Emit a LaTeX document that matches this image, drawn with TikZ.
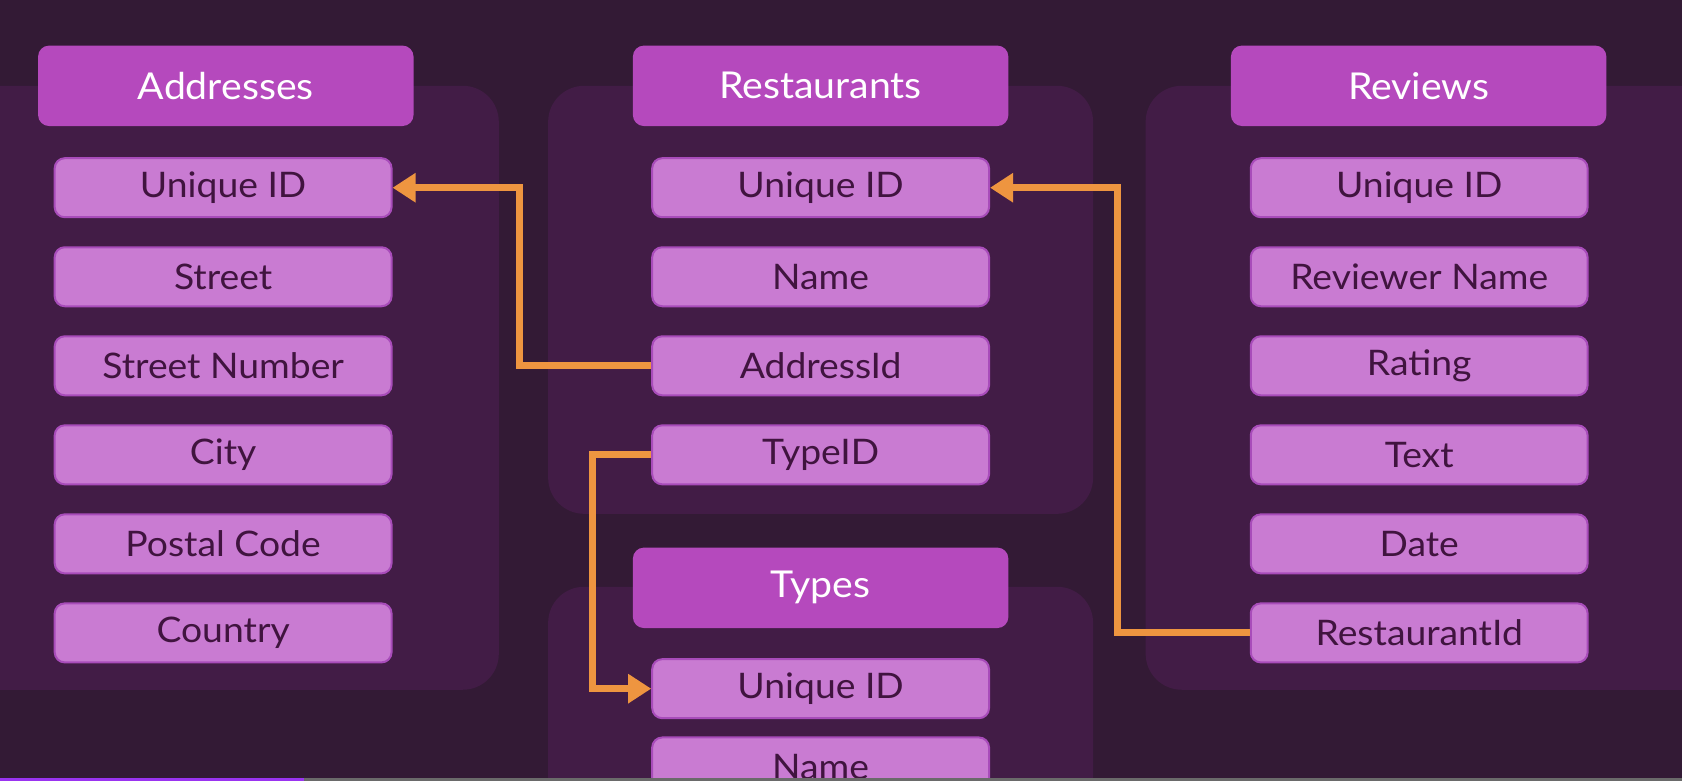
\documentclass[tikz,border=0pt]{standalone}
\usepackage{fontspec}
\setmainfont{Lato}[FakeStretch=1.06]
\usetikzlibrary{arrows.meta}
\definecolor{bgc}{HTML}{331A35}
\definecolor{panelc}{HTML}{421C46}
\definecolor{headc}{HTML}{B549BD}
\definecolor{fieldc}{HTML}{C97BD2}
\definecolor{fieldb}{HTML}{A84CBA}
\definecolor{fieldt}{HTML}{40143F}
\definecolor{fkc}{HTML}{EE9540}
\definecolor{barp}{HTML}{9A34F0}
\definecolor{barg}{HTML}{6A6A6A}
\def\u{0.5365pt}
\tikzset{
  panel/.style={fill=panelc, rounded corners=18pt},
  header/.style={fill=headc, rounded corners=5.5pt, minimum width=350*\u, minimum height=75*\u,
    text=white, font=\fontsize{18.5}{20}\selectfont, inner sep=0pt},
  field/.style={fill=fieldc, draw=fieldb, line width=1pt, rounded corners=5pt,
    minimum width=314*\u, minimum height=55*\u, text=fieldt,
    font=\fontsize{17.6}{19}\selectfont, inner sep=0pt},
  fk/.style={draw=fkc, line width=3.5pt, -{Triangle[length=11.5pt,width=14pt]}}
}
\begin{document}
\begin{tikzpicture}[x=\u, y=-\u]
\fill[bgc] (0,0) rectangle (1568,728);
\useasboundingbox (0,0) rectangle (1568,728);
% panels
\fill[panel] (-60,80) rectangle (465,643);
\fill[panel] (511,80) rectangle (1019,479);
\fill[panel] (1068,80) rectangle (1620,643);
\fill[panel] (511,547) rectangle (1019,800);
% headers
\node[header] (hA) at (210.5,80) {Addresses};
\node[header] (hR) at (765,80) {Restaurants};
\node[header] (hV) at (1322.5,80) {Reviews};
\node[header] (hT) at (765,548) {Types};
% Addresses fields
\node[field] (aUID) at (208,175) {Unique ID};
\node[field] (aSt) at (208,258) {Street};
\node[field] (aNum) at (208,341) {Street Number};
\node[field] (aCity) at (208,424) {City};
\node[field] (aPC) at (208,507) {Postal Code};
\node[field] (aCo) at (208,590) {Country};
% Restaurants fields
\node[field] (rUID) at (765,175) {Unique ID};
\node[field] (rName) at (765,258) {Name};
\node[field] (rAid) at (765,341) {AddressId};
\node[field] (rTid) at (765,424) {TypeID};
% Types fields
\node[field] (tUID) at (765,642) {Unique ID};
\node[field] (tName) at (765,715) {Name};
% Reviews fields
\node[field] (vUID) at (1323,175) {Unique ID};
\node[field] (vRN) at (1323,258) {Reviewer Name};
\node[field] (vRat) at (1323,341) {Rating};
\node[field] (vTxt) at (1323,424) {Text};
\node[field] (vDate) at (1323,507) {Date};
\node[field] (vRid) at (1323,590) {RestaurantId};
% foreign keys
\draw[fk] (rAid.west) -- ++(-123,0) |- (aUID.east);
\draw[fk] (rTid.west) -- ++(-55,0) |- (tUID.west);
\draw[fk] (vRid.west) -- ++(-123,0) |- (rUID.east);
% progress bar
\fill[barg] (0,725) rectangle (1568,728);
\fill[barp] (0,725) rectangle (283,728);
\end{tikzpicture}
\end{document}
